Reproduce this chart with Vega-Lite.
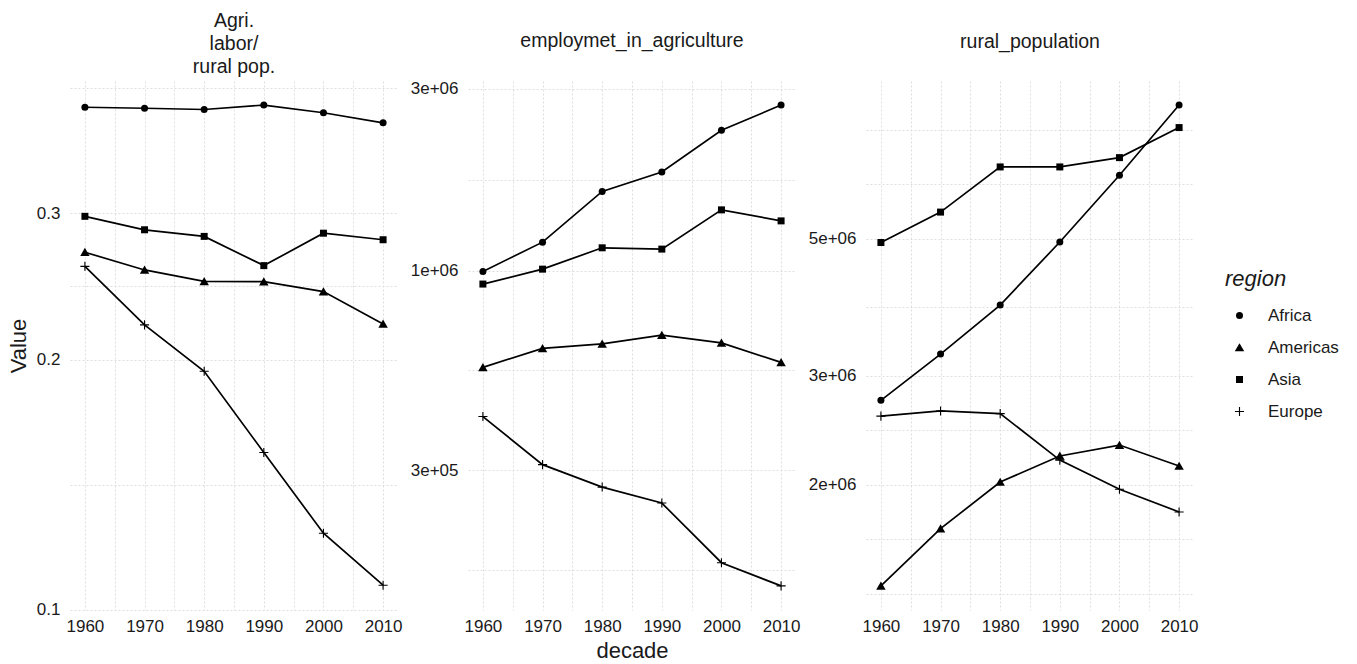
{
  "$schema": "https://vega.github.io/schema/vega-lite/v6.json",
  "background": "white",
  "padding": {"left": 7, "top": 10, "right": 0, "bottom": 0},
  "datasets": {
    "d": [
      {"decade":1960,"region":"Africa","variable":"ratio","value":0.4025},
      {"decade":1970,"region":"Africa","variable":"ratio","value":0.4014},
      {"decade":1980,"region":"Africa","variable":"ratio","value":0.400},
      {"decade":1990,"region":"Africa","variable":"ratio","value":0.405},
      {"decade":2000,"region":"Africa","variable":"ratio","value":0.3964},
      {"decade":2010,"region":"Africa","variable":"ratio","value":0.3855},
      {"decade":1960,"region":"Americas","variable":"ratio","value":0.2693},
      {"decade":1970,"region":"Americas","variable":"ratio","value":0.2564},
      {"decade":1980,"region":"Americas","variable":"ratio","value":0.2484},
      {"decade":1990,"region":"Americas","variable":"ratio","value":0.2482},
      {"decade":2000,"region":"Americas","variable":"ratio","value":0.2415},
      {"decade":2010,"region":"Americas","variable":"ratio","value":0.2208},
      {"decade":1960,"region":"Asia","variable":"ratio","value":0.2975},
      {"decade":1970,"region":"Asia","variable":"ratio","value":0.2866},
      {"decade":1980,"region":"Asia","variable":"ratio","value":0.2814},
      {"decade":1990,"region":"Asia","variable":"ratio","value":0.2595},
      {"decade":2000,"region":"Asia","variable":"ratio","value":0.2839},
      {"decade":2010,"region":"Asia","variable":"ratio","value":0.2788},
      {"decade":1960,"region":"Europe","variable":"ratio","value":0.2590},
      {"decade":1970,"region":"Europe","variable":"ratio","value":0.2202},
      {"decade":1980,"region":"Europe","variable":"ratio","value":0.1936},
      {"decade":1990,"region":"Europe","variable":"ratio","value":0.1546},
      {"decade":2000,"region":"Europe","variable":"ratio","value":0.1236},
      {"decade":2010,"region":"Europe","variable":"ratio","value":0.1070},
      {"decade":1960,"region":"Africa","variable":"emp","value":996000},
      {"decade":1970,"region":"Africa","variable":"emp","value":1189000},
      {"decade":1980,"region":"Africa","variable":"emp","value":1615000},
      {"decade":1990,"region":"Africa","variable":"emp","value":1817000},
      {"decade":2000,"region":"Africa","variable":"emp","value":2337000},
      {"decade":2010,"region":"Africa","variable":"emp","value":2722000},
      {"decade":1960,"region":"Americas","variable":"emp","value":558000},
      {"decade":1970,"region":"Americas","variable":"emp","value":626000},
      {"decade":1980,"region":"Americas","variable":"emp","value":643000},
      {"decade":1990,"region":"Americas","variable":"emp","value":678000},
      {"decade":2000,"region":"Americas","variable":"emp","value":647000},
      {"decade":2010,"region":"Americas","variable":"emp","value":575000},
      {"decade":1960,"region":"Asia","variable":"emp","value":923000},
      {"decade":1970,"region":"Asia","variable":"emp","value":1010000},
      {"decade":1980,"region":"Asia","variable":"emp","value":1149000},
      {"decade":1990,"region":"Asia","variable":"emp","value":1140000},
      {"decade":2000,"region":"Asia","variable":"emp","value":1445000},
      {"decade":2010,"region":"Asia","variable":"emp","value":1352000},
      {"decade":1960,"region":"Europe","variable":"emp","value":414500},
      {"decade":1970,"region":"Europe","variable":"emp","value":310000},
      {"decade":1980,"region":"Europe","variable":"emp","value":270700},
      {"decade":1990,"region":"Europe","variable":"emp","value":245800},
      {"decade":2000,"region":"Europe","variable":"emp","value":171400},
      {"decade":2010,"region":"Europe","variable":"emp","value":149000},
      {"decade":1960,"region":"Africa","variable":"rural","value":2740000},
      {"decade":1970,"region":"Africa","variable":"rural","value":3255000},
      {"decade":1980,"region":"Africa","variable":"rural","value":3906000},
      {"decade":1990,"region":"Africa","variable":"rural","value":4938000},
      {"decade":2000,"region":"Africa","variable":"rural","value":6330000},
      {"decade":2010,"region":"Africa","variable":"rural","value":8220000},
      {"decade":1960,"region":"Americas","variable":"rural","value":1374000},
      {"decade":1970,"region":"Americas","variable":"rural","value":1700000},
      {"decade":1980,"region":"Americas","variable":"rural","value":2022000},
      {"decade":1990,"region":"Americas","variable":"rural","value":2228000},
      {"decade":2000,"region":"Americas","variable":"rural","value":2320000},
      {"decade":2010,"region":"Americas","variable":"rural","value":2146000},
      {"decade":1960,"region":"Asia","variable":"rural","value":4930000},
      {"decade":1970,"region":"Asia","variable":"rural","value":5520000},
      {"decade":1980,"region":"Asia","variable":"rural","value":6530000},
      {"decade":1990,"region":"Asia","variable":"rural","value":6530000},
      {"decade":2000,"region":"Asia","variable":"rural","value":6760000},
      {"decade":2010,"region":"Asia","variable":"rural","value":7560000},
      {"decade":1960,"region":"Europe","variable":"rural","value":2584000},
      {"decade":1970,"region":"Europe","variable":"rural","value":2634000},
      {"decade":1980,"region":"Europe","variable":"rural","value":2608000},
      {"decade":1990,"region":"Europe","variable":"rural","value":2194000},
      {"decade":2000,"region":"Europe","variable":"rural","value":1968000},
      {"decade":2010,"region":"Europe","variable":"rural","value":1809000}
    ]
  },
  "data": {"name": "d"},
  "config": {
    "view": {"stroke": null},
    "font": "Liberation Sans",
    "axis": {
      "grid": true, "gridColor": "#dedede", "gridDash": [2, 2], "gridWidth": 1,
      "domain": false, "ticks": false, "tickSize": 0,
      "labelFontSize": 17, "labelColor": "#1a1a1a", "labelPadding": 10,
      "titleFontSize": 22, "titleFontWeight": "normal", "titleColor": "#1a1a1a"
    },
    "axisY": {"titlePadding": 6},
    "axisX": {"titlePadding": 6, "labelPadding": 8.5},
    "title": {"fontSize": 19.5, "fontWeight": "normal", "color": "#1a1a1a", "lineHeight": 23, "offset": 0, "anchor": "middle"}
  },
  "spacing": 70,
  "bounds": "flush",
  "hconcat": [
    {
      "title": {"text": ["Agri.", "labor/", "rural pop."]},
      "width": 328, "height": 529,
      "transform": [{"filter": "datum.variable === 'ratio'"}],
      "encoding": {
        "x": {"field": "decade", "type": "quantitative",
              "scale": {"domain": [1957.5, 2012.5], "nice": false, "zero": false},
              "axis": {"values": [1960,1965,1970,1975,1980,1985,1990,1995,2000,2005,2010], "labelExpr": "datum.value % 10 === 0 ? toString(datum.value) : ''", "title": null}},
        "y": {"field": "value", "type": "quantitative",
              "scale": {"type": "log", "domain": [0.0999, 0.4329], "nice": false},
              "axis": {"values": [0.1, 0.141421, 0.2, 0.244949, 0.3, 0.424264], "labelExpr": "datum.value === 0.1 || datum.value === 0.2 || datum.value === 0.3 ? format(datum.value, '.1f') : ''", "title": "Value"}}
      },
      "layer": [
        {"mark": {"type": "line", "color": "black", "strokeWidth": 1.7}, "encoding": {"detail": {"field": "region"}}},
        {"mark": {"type": "point", "filled": true, "fill": "black", "strokeWidth": 0, "size": 49, "opacity": 1},
         "encoding": {"shape": {"field": "region", "type": "nominal",
            "scale": {"domain": ["Africa", "Americas", "Asia", "Europe"], "range": ["circle", "M0,-1.25L1.35,1.1L-1.35,1.1Z", "square", "M-1.3,-0.16L-0.16,-0.16L-0.16,-1.3L0.16,-1.3L0.16,-0.16L1.3,-0.16L1.3,0.16L0.16,0.16L0.16,1.3L-0.16,1.3L-0.16,0.16L-1.3,0.16Z"]},
            "legend": {"title": "region", "orient": "none", "legendX": 1155, "legendY": 188,
              "titleFontSize": 22, "titleFontStyle": "italic", "titleFontWeight": "normal", "titleColor": "#1a1a1a",
              "labelFontSize": 17, "labelColor": "#1a1a1a", "symbolSize": 49, "symbolFillColor": "black", "symbolStrokeWidth": 0,
              "rowPadding": 14, "titlePadding": 16, "symbolOffset": 6, "labelOffset": 20}}}}
      ]
    },
    {
      "title": {"text": "employmet_in_agriculture", "offset": 28.5},
      "width": 328, "height": 529,
      "transform": [{"filter": "datum.variable === 'emp'"}],
      "encoding": {
        "x": {"field": "decade", "type": "quantitative",
              "scale": {"domain": [1957.5, 2012.5], "nice": false, "zero": false},
              "axis": {"values": [1960,1965,1970,1975,1980,1985,1990,1995,2000,2005,2010], "labelExpr": "datum.value % 10 === 0 ? toString(datum.value) : ''", "title": "decade"}},
        "y": {"field": "value", "type": "quantitative",
              "scale": {"type": "log", "domain": [128800, 3148000], "nice": false},
              "axis": {"values": [164317, 300000, 547723, 1000000, 1732051, 3000000], "labelExpr": "datum.value === 300000 ? '3e+05' : datum.value === 1000000 ? '1e+06' : datum.value === 3000000 ? '3e+06' : ''", "title": null}}
      },
      "layer": [
        {"mark": {"type": "line", "color": "black", "strokeWidth": 1.7}, "encoding": {"detail": {"field": "region"}}},
        {"mark": {"type": "point", "filled": true, "fill": "black", "strokeWidth": 0, "size": 49, "opacity": 1},
         "encoding": {"shape": {"field": "region", "type": "nominal"}}}
      ]
    },
    {
      "title": {"text": "rural_population", "offset": 28.5},
      "width": 328, "height": 529,
      "transform": [{"filter": "datum.variable === 'rural'"}],
      "encoding": {
        "x": {"field": "decade", "type": "quantitative",
              "scale": {"domain": [1957.5, 2012.5], "nice": false, "zero": false},
              "axis": {"values": [1960,1965,1970,1975,1980,1985,1990,1995,2000,2005,2010], "labelExpr": "datum.value % 10 === 0 ? toString(datum.value) : ''", "title": null}},
        "y": {"field": "value", "type": "quantitative",
              "scale": {"type": "log", "domain": [1256000, 8990000], "nice": false},
              "axis": {"values": [1333333, 1632993, 2000000, 2449490, 3000000, 3872983, 5000000, 6123724, 7500000], "labelExpr": "datum.value === 2000000 ? '2e+06' : datum.value === 3000000 ? '3e+06' : datum.value === 5000000 ? '5e+06' : ''", "title": null}}
      },
      "layer": [
        {"mark": {"type": "line", "color": "black", "strokeWidth": 1.7}, "encoding": {"detail": {"field": "region"}}},
        {"mark": {"type": "point", "filled": true, "fill": "black", "strokeWidth": 0, "size": 49, "opacity": 1},
         "encoding": {"shape": {"field": "region", "type": "nominal"}}}
      ]
    }
  ],
  "resolve": {"scale": {"y": "independent"}}
}
